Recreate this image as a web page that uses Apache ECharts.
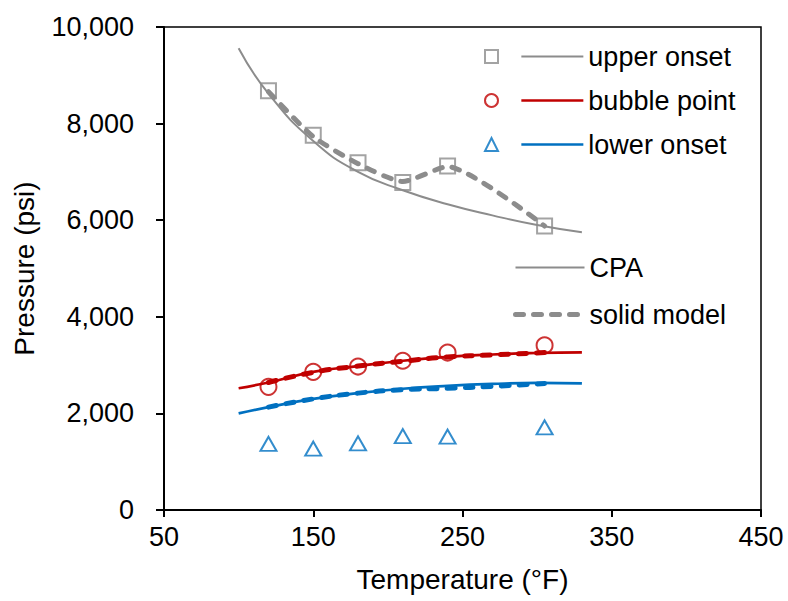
<!DOCTYPE html>
<html>
<head>
<meta charset="utf-8">
<title>Onset pressure</title>
<script src="https://cdn.jsdelivr.net/npm/echarts@6/dist/echarts.min.js"></script>
<style>
	html,body{margin:0;padding:0;background:#fff;}
	#main{width:788px;height:601px;}
</style>
</head>
<body>
<div id="main"></div>
<script>
// measured points
var expTemp = [120, 150, 180, 210, 240, 305];
var upperOnset = [8680, 7760, 7190, 6780, 7120, 5880];
var bubblePoint = [2550, 2860, 2970, 3090, 3260, 3410];
var lowerOnset = [1370, 1270, 1380, 1530, 1520, 1710];

// CPA curves
var cpaTemp = [100, 120, 150, 180, 210, 240, 270, 300, 330];
var cpaUpper = [9560, 8620, 7640, 7000, 6620, 6330, 6100, 5900, 5750];
var cpaBubble = [2520, 2640, 2860, 2980, 3090, 3170, 3220, 3250, 3265];
var cpaLower = [2000, 2130, 2300, 2420, 2510, 2570, 2610, 2630, 2620];

// solid model curves
var modelUpper = [8660, 7730, 7170, 6800, 7110, 5880];
var modelTemp = [120, 150, 180, 210, 240, 270, 305];
var modelBubble = [2640, 2850, 2980, 3080, 3170, 3210, 3260];
var modelLower = [2130, 2300, 2420, 2490, 2520, 2560, 2620];

var xTicks = [50, 150, 250, 350, 450];
var yTicks = [0, 2000, 4000, 6000, 8000, 10000];

var GRAY = '#8c8c8c';
var RED = '#c00000';
var BLUE = '#0070c0';
var FONT = '"Liberation Sans", Arial, sans-serif';

function pairs(xs, ys){
	var out = [];
	for(var i = 0; i < ys.length; i++){
		out.push([xs[i], ys[i]]);
	}
	return out;
}

function lineSeries(name, xs, ys, color, width, dash, smooth){
	return {
		name: name,
		type: 'line',
		data: pairs(xs, ys),
		symbol: 'none',
		smooth: smooth,
		lineStyle: {color: color, width: width, type: dash || 'solid', cap: dash ? 'round' : 'butt'},
		itemStyle: {color: color},
		z: 2
	};
}

function pointSeries(name, ys, symbol, size, color){
	return {
		name: name,
		type: 'scatter',
		data: pairs(expTemp, ys),
		symbol: symbol,
		symbolSize: size,
		itemStyle: {color: 'rgba(255,255,255,0)', borderColor: color, borderWidth: 2},
		z: 5
	};
}

var myChart = echarts.init(document.getElementById('main'), null, {renderer: 'svg'});
var option = {
	animation: false,
	backgroundColor: '#fff',
	textStyle: {fontFamily: FONT},
	grid: {left: 164, right: 27, top: 27, bottom: 91, show: true, borderColor: '#000', borderWidth: 1.5},
	legend: [{
		// line part of the first three entries
		left: 520, top: 43, padding: 0, orient: 'vertical',
		itemWidth: 62, itemHeight: 14, itemGap: 17,
		data: ['upper onset', 'bubble point', 'lower onset'],
		lineStyle: {width: 'inherit'},
		itemStyle: {opacity: 0},
		textStyle: {fontFamily: FONT, fontSize: 27, color: '#000'},
		selectedMode: false
	},{
		// marker part
		left: 484, top: 43, padding: 0, orient: 'vertical',
		itemWidth: 13, itemHeight: 13, itemGap: 17,
		data: ['upper onset data', 'bubble point data', 'lower onset data'],
		formatter: function(){ return ' '; },
		textStyle: {fontFamily: FONT, fontSize: 27, color: '#000'},
		selectedMode: false
	},{
		left: 513, top: 254, padding: 0, orient: 'vertical',
		itemWidth: 69, itemHeight: 14, itemGap: 20,
		data: ['CPA', 'solid model'],
		lineStyle: {width: 'inherit'},
		itemStyle: {opacity: 0},
		textStyle: {fontFamily: FONT, fontSize: 27, color: '#000'},
		selectedMode: false
	}],
	xAxis: {
		type: 'value', min: xTicks[0], max: xTicks[xTicks.length - 1], interval: 100,
		name: 'Temperature (°F)', nameLocation: 'middle', nameGap: 55,
		nameTextStyle: {fontFamily: FONT, fontSize: 28, color: '#000'},
		axisLine: {lineStyle: {color: '#000', width: 2}},
		axisTick: {show: true, length: 7, lineStyle: {color: '#000', width: 2}},
		axisLabel: {fontFamily: FONT, fontSize: 27, color: '#000', margin: 13},
		splitLine: {show: false}
	},
	yAxis: {
		type: 'value', min: yTicks[0], max: yTicks[yTicks.length - 1], interval: 2000,
		name: 'Pressure (psi)', nameLocation: 'middle', nameGap: 126,
		nameTextStyle: {fontFamily: FONT, fontSize: 28, color: '#000'},
		axisLine: {show: true, lineStyle: {color: '#000', width: 2}},
		axisTick: {show: true, length: 8, lineStyle: {color: '#000', width: 2}},
		axisLabel: {fontFamily: FONT, fontSize: 27, color: '#000', margin: 30,
			formatter: function(v){ return v.toLocaleString('en-US'); }},
		splitLine: {show: false}
	},
	series: [
		lineSeries('upper onset', cpaTemp, cpaUpper, GRAY, 2, null, true),
		lineSeries('bubble point', cpaTemp, cpaBubble, RED, 2.7, null, true),
		lineSeries('lower onset', cpaTemp, cpaLower, BLUE, 2.7, null, true),
		lineSeries('CPA', [], [], GRAY, 2, null, true),
		lineSeries('solid model', expTemp, modelUpper, GRAY, 5, [8, 10], 0.2),
		lineSeries('bubble point model', modelTemp, modelBubble, RED, 5, [8, 10], true),
		lineSeries('lower onset model', modelTemp, modelLower, BLUE, 5, [8, 10], true),
		pointSeries('upper onset data', upperOnset, 'rect', 15, GRAY),
		pointSeries('bubble point data', bubblePoint, 'circle', 16, RED),
		pointSeries('lower onset data', lowerOnset, 'triangle', [16, 14], BLUE)
	]
};
myChart.setOption(option);
</script>
</body>
</html>
